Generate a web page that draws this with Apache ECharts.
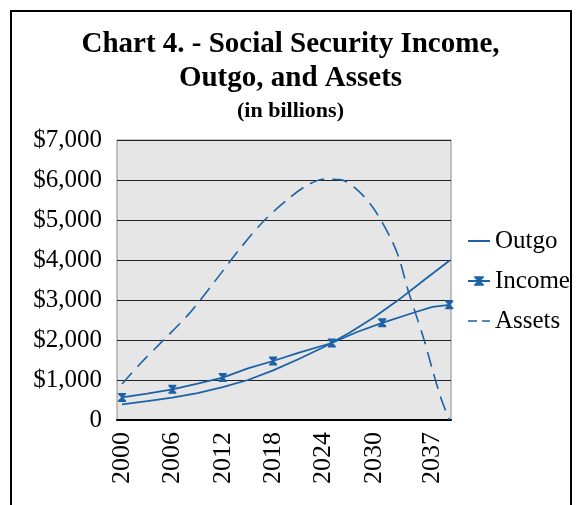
<!DOCTYPE html>
<html>
<head>
<meta charset="utf-8">
<script src="https://cdn.jsdelivr.net/npm/echarts@6/dist/echarts.min.js"></script>
<style>html,body{margin:0;padding:0;background:#fff;}#c{width:581px;height:505px;}</style>
</head>
<body>
<div id="c"></div>
<script>
// ---- data ----
const titleLines = ['Chart 4. - Social Security Income,', 'Outgo, and Assets'];
const subtitle = '(in billions)';
const seriesNames = ['Outgo', 'Income', 'Assets'];
const yTicks = [0, 1000, 2000, 3000, 4000, 5000, 6000, 7000];
const xTickYears = [2000, 2006, 2012, 2018, 2024, 2030, 2037];

const outgoYears  = [2000, 2003, 2006, 2009, 2012, 2015, 2018, 2021, 2024, 2027, 2030, 2033, 2036, 2039];
const outgoValues = [ 390,  470,  560,  670,  820, 1000, 1240, 1520, 1820, 2170, 2560, 3010, 3500, 3980];

const incomeYears  = [2000, 2003, 2006, 2009, 2012, 2015, 2018, 2021, 2025, 2028, 2031, 2035, 2037, 2039];
const incomeValues = [ 565,  660,  767,  910, 1060, 1290, 1475, 1680, 1925, 2200, 2430, 2700, 2830, 2880];
const incomeMarkerYears = [2000, 2006, 2012, 2018, 2025, 2031, 2039];

const assetsYears  = [2000, 2002, 2005, 2008, 2011, 2014, 2017, 2020, 2022, 2024, 2026, 2028, 2030, 2032, 2033, 2034, 2035, 2036, 2037, 2038, 2039];
const assetsValues = [ 900, 1370, 2010, 2660, 3450, 4270, 5000, 5560, 5860, 6020, 6010, 5760, 5280, 4550, 4050, 3300, 2650, 2000, 1250,  550,    0];

// ---- build ----
const BLUE = '#1b62a6';
const FONT = "'Liberation Serif', 'Times New Roman', serif";
const STAR = 'path://M0,0L10,0L10,1.6L6.2,5L10,8.4L10,10L0,10L0,8.4L3.8,5L0,1.6Z';

const pairs = (xs, vs) => xs.map((x, i) => [x, vs[i]]);
const incomeData = incomeYears.map((y, i) => ({
  value: [y, incomeValues[i]],
  symbol: incomeMarkerYears.includes(y) ? STAR : 'none'
}));
const hiddenDot = {color: 'rgba(0,0,0,0)', borderWidth: 0, borderColor: 'rgba(0,0,0,0)'};

const chart = echarts.init(document.getElementById('c'), null, {renderer: 'canvas'});
chart.setOption({
  animation: false,
  backgroundColor: '#fff',
  graphic: [{
    type: 'rect', z: 100,
    shape: {x: 11, y: 11, width: 560, height: 530},
    style: {fill: 'none', stroke: '#000', lineWidth: 2}
  }],
  title: [
    {text: titleLines[0], left: 'center', top: 23,
     textStyle: {fontFamily: FONT, fontWeight: 'bold', fontSize: 29, color: '#000', lineHeight: 34}},
    {text: titleLines[1], left: 'center', top: 57,
     textStyle: {fontFamily: FONT, fontWeight: 'bold', fontSize: 29, color: '#000', lineHeight: 34}},
    {text: subtitle, left: 'center', top: 94,
     textStyle: {fontFamily: FONT, fontWeight: 'bold', fontSize: 22, color: '#000', lineHeight: 24}}
  ],
  legend: {
    orient: 'vertical', left: 467, top: 228, padding: 0,
    itemWidth: 22, itemHeight: 12, itemGap: 14,
    data: [
      {name: seriesNames[0], itemStyle: hiddenDot},
      {name: seriesNames[1]},
      {name: seriesNames[2], itemStyle: hiddenDot, lineStyle: {type: [9, 5], width: 1.6}}
    ],
    textStyle: {fontFamily: FONT, fontSize: 25, color: '#000', lineHeight: 26}
  },
  grid: {
    left: 117, right: 130, top: 140, bottom: 85,
    show: true, backgroundColor: '#e6e6e6', borderColor: '#8a8a8a', borderWidth: 1
  },
  xAxis: {
    type: 'value', min: 1999.4, max: 2039.2,
    axisLine: {show: true, onZero: false, lineStyle: {color: '#000', width: 2}},
    axisTick: {show: false},
    splitLine: {show: false},
    axisLabel: {
      customValues: xTickYears, rotate: 90, margin: 12,
      fontFamily: FONT, fontSize: 26, color: '#000',
      formatter: v => String(v)
    }
  },
  yAxis: {
    type: 'value', min: yTicks[0], max: yTicks[yTicks.length - 1], interval: 1000,
    axisLine: {show: false}, axisTick: {show: false},
    splitLine: {show: true, lineStyle: {color: '#222', width: 1}},
    axisLabel: {
      margin: 15, fontFamily: FONT, fontSize: 25, color: '#000',
      formatter: v => v === 0 ? '0' : '$' + v.toLocaleString('en-US')
    }
  },
  series: [
    {name: seriesNames[0], type: 'line', data: pairs(outgoYears, outgoValues),
     symbol: 'none', color: BLUE, lineStyle: {color: BLUE, width: 1.8}},
    {name: seriesNames[1], type: 'line', data: incomeData,
     symbol: STAR, symbolSize: [8, 9], showSymbol: true, color: BLUE,
     itemStyle: {color: BLUE}, lineStyle: {color: BLUE, width: 1.8}},
    {name: seriesNames[2], type: 'line', data: pairs(assetsYears, assetsValues),
     symbol: 'none', smooth: 0.3, color: BLUE, lineStyle: {color: BLUE, width: 1.6, type: [15, 8]}}
  ]
});
</script>
</body>
</html>
